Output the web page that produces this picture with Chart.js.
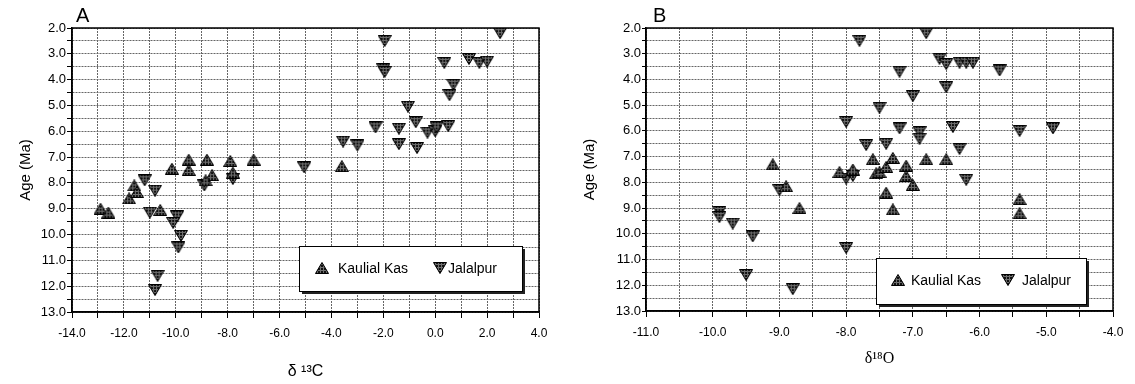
<!DOCTYPE html>
<html>
<head>
<meta charset="utf-8">
<script src="https://cdn.jsdelivr.net/npm/chart.js@4.4.0/dist/chart.umd.min.js"></script>
<style>
  body { margin: 0; background: #fff; }
  .panel { position: absolute; top: 0; }
  #panelA { left: 0; }
  #panelB { left: 560px; }
</style>
</head>
<body>
<div class="panel" id="panelA"><canvas id="chartA" width="560" height="384"></canvas></div>
<div class="panel" id="panelB"><canvas id="chartB" width="575" height="384"></canvas></div>
<script>

// panel A - d13C vs age

const carbonKaulialX = [-12.9, -12.6, -11.8, -11.6, -11.5, -10.6, -10.15, -9.5, -9.5, -8.8, -8.6, -8.85, -7.9, -7.8, -7.0, -3.6];
const carbonKaulialAge = [9.0, 9.15, 8.6, 8.1, 8.35, 9.05, 7.45, 7.1, 7.5, 7.1, 7.7, 7.9, 7.15, 7.6, 7.1, 7.35];

const carbonJalalpurX = [-11.2, -10.8, -11.0, -9.95, -10.1, -9.8, -9.9, -10.7, -10.8, -8.9, -7.8, -5.05, -3.55, -3.0, -2.3, -1.95, -2.0, -1.95, -1.4, -1.4, -1.05, -0.75, -0.7, -0.3, 0.0, 0.05, 0.5, 0.35, 0.7, 0.55, 1.3, 1.7, 2.0, 2.5];
const carbonJalalpurAge = [7.9, 8.3, 9.15, 9.3, 9.55, 10.05, 10.5, 11.6, 12.15, 8.1, 7.85, 7.4, 6.4, 6.55, 5.85, 2.5, 3.6, 3.7, 6.5, 5.9, 5.05, 5.65, 6.65, 6.05, 6.0, 5.85, 5.8, 3.35, 4.2, 4.6, 3.2, 3.35, 3.3, 2.2];

// panel B - d18O vs age

const oxygenKaulialX = [-9.1, -8.9, -8.7, -8.1, -7.9, -7.55, -7.6, -7.5, -7.4, -7.3, -7.1, -7.1, -7.0, -6.8, -6.5, -7.4, -7.3, -5.4, -5.4];
const oxygenKaulialAge = [7.3, 8.15, 9.0, 7.6, 7.5, 7.65, 7.1, 7.6, 7.4, 7.05, 7.35, 7.75, 8.1, 7.1, 7.1, 8.4, 9.05, 8.65, 9.2];

const oxygenJalalpurX = [-9.0, -9.9, -9.9, -9.7, -9.4, -9.5, -8.8, -8.0, -8.0, -7.9, -7.8, -6.8, -6.6, -6.5, -6.3, -6.2, -6.1, -5.7, -7.2, -6.5, -7.0, -7.5, -8.0, -7.2, -6.9, -6.9, -6.4, -7.7, -7.4, -6.3, -6.2, -5.4, -4.9];
const oxygenJalalpurAge = [8.3, 9.15, 9.35, 9.6, 10.1, 11.6, 12.15, 10.55, 7.85, 7.75, 2.5, 2.2, 3.2, 3.4, 3.35, 3.35, 3.35, 3.65, 3.7, 4.3, 4.65, 5.1, 5.65, 5.9, 6.05, 6.3, 5.85, 6.55, 6.5, 6.7, 7.9, 6.0, 5.9];

const seriesNames = ['Kaulial Kas', 'Jalalpur'];
const ageMin = 2, ageMax = 13;

const font = "'Liberation Sans', Arial, sans-serif";

// hatched triangle markers

function makeMarker(up) {
  const c = document.createElement('canvas');
  c.width = 14;
  c.height = 12;
  const ctx = c.getContext('2d');
  ctx.beginPath();
  if (up) {
    ctx.moveTo(7, 0.5); ctx.lineTo(13.5, 11.5); ctx.lineTo(0.5, 11.5);
  } else {
    ctx.moveTo(0.5, 0.5); ctx.lineTo(13.5, 0.5); ctx.lineTo(7, 11.5);
  }
  ctx.closePath();
  ctx.save();
  ctx.clip();
  ctx.fillStyle = '#111';
  ctx.fillRect(0, 0, 14, 12);
  ctx.fillStyle = '#707070';
  for (let i = 2; i < 14; i += 3) ctx.fillRect(i, 0, 1, 12);
  for (let j = 2; j < 12; j += 3) ctx.fillRect(0, j, 14, 1);
  ctx.restore();
  ctx.strokeStyle = '#000';
  ctx.lineWidth = 1;
  ctx.stroke();
  return c;
}

const markerUp = makeMarker(true);
const markerDown = makeMarker(false);

function points(xs, ages) {
  return xs.map((x, i) => ({ x: x, y: ages[i] }));
}

// frame, panel letter and boxed legend

const decorations = {
  id: 'decorations',
  afterDraw(chart, args, opts) {
    const ctx = chart.ctx;
    const a = chart.chartArea;
    ctx.save();
    ctx.strokeStyle = '#000';
    ctx.lineWidth = 1.5;
    ctx.strokeRect(a.left, a.top, a.right - a.left, a.bottom - a.top);

    ctx.fillStyle = '#000';
    ctx.font = '20px ' + font;
    ctx.textBaseline = 'middle';
    ctx.textAlign = 'left';
    ctx.fillText(opts.letter, opts.letterX, 16);

    const [bx, by, bw, bh] = opts.box;
    ctx.fillStyle = '#222';
    ctx.fillRect(bx + 3, by + 3, bw, bh);
    ctx.fillStyle = '#fff';
    ctx.fillRect(bx, by, bw, bh);
    ctx.lineWidth = 1;
    ctx.strokeRect(bx + 0.5, by + 0.5, bw, bh);

    ctx.font = '14px ' + font;
    ctx.fillStyle = '#000';
    const marks = [markerUp, markerDown];
    opts.items.forEach((item, i) => {
      ctx.drawImage(marks[i], item[0] - 7, opts.cy - 6);
      ctx.fillText(seriesNames[i], item[1], opts.cy + 1);
    });
    ctx.restore();
  }
};

function makeChart(id, p) {
  return new Chart(document.getElementById(id), {
    type: 'scatter',
    data: {
      datasets: [
        { label: seriesNames[0], data: points(p.kx, p.ka), pointStyle: markerUp, pointRadius: 7 },
        { label: seriesNames[1], data: points(p.jx, p.ja), pointStyle: markerDown, pointRadius: 7 }
      ]
    },
    options: {
      responsive: false,
      animation: false,
      events: [],
      layout: { padding: p.pad },
      plugins: {
        legend: { display: false },
        tooltip: { enabled: false },
        decorations: p.deco
      },
      scales: {
        x: {
          type: 'linear',
          min: p.xMin,
          max: p.xMax,
          afterFit: (s) => { s.height = p.xHeight; },
          ticks: {
            stepSize: p.xStep,
            autoSkip: false,
            maxRotation: 0,
            padding: 8,
            color: '#000',
            font: { family: font, size: 12 },
            callback: (v) => (Math.abs(v % p.xLabelEvery) < 1e-9 ? v.toFixed(1) : '')
          },
          grid: { color: '#666', tickColor: '#000', tickLength: 6, lineWidth: 1 },
          border: { color: '#000', width: 1.5, dash: [2, 1] },
          title: {
            display: true,
            text: p.xTitle,
            color: '#000',
            padding: 0,
            font: { family: p.xTitleFont, size: 16 }
          }
        },
        y: {
          type: 'linear',
          reverse: true,
          min: ageMin,
          max: ageMax,
          afterFit: (s) => { s.width = p.yWidth; },
          ticks: {
            stepSize: 0.5,
            autoSkip: false,
            padding: 1,
            color: '#000',
            font: { family: font, size: 13 },
            callback: (v) => (Number.isInteger(v) ? v.toFixed(1) : '')
          },
          grid: { color: '#666', tickColor: '#000', tickLength: p.yTick, lineWidth: 1 },
          border: { color: '#000', width: 1.5, dash: [2, 1] },
          title: {
            display: true,
            text: 'Age (Ma)',
            color: '#000',
            padding: { top: 4, bottom: 0 },
            font: { family: font, size: 15 }
          }
        }
      }
    },
    plugins: [decorations]
  });
}

const chartA = makeChart('chartA', {
  kx: carbonKaulialX, ka: carbonKaulialAge,
  jx: carbonJalalpurX, ja: carbonJalalpurAge,
  xMin: -14, xMax: 4, xStep: 1, xLabelEvery: 2,
  xTitle: 'δ ¹³C',
  xTitleFont: font,
  pad: { left: 13, right: 21, top: 28, bottom: 3 },
  yWidth: 59, xHeight: 69, yTick: 5,
  deco: { letter: 'A', letterX: 76, box: [299, 246, 223, 45], items: [[322, 338], [440, 448]], cy: 268 }
});

const chartB = makeChart('chartB', {
  kx: oxygenKaulialX, ka: oxygenKaulialAge,
  jx: oxygenJalalpurX, ja: oxygenJalalpurAge,
  xMin: -11, xMax: -4, xStep: 0.5, xLabelEvery: 1,
  xTitle: 'δ¹⁸O',
  xTitleFont: "'Liberation Serif', 'DejaVu Serif', serif",
  pad: { left: 17, right: 22, top: 28, bottom: 16 },
  yWidth: 69, xHeight: 57, yTick: 4,
  deco: { letter: 'B', letterX: 93, box: [316, 258, 210, 46], items: [[338, 351], [448, 462]], cy: 280 }
});

</script>
</body>
</html>
